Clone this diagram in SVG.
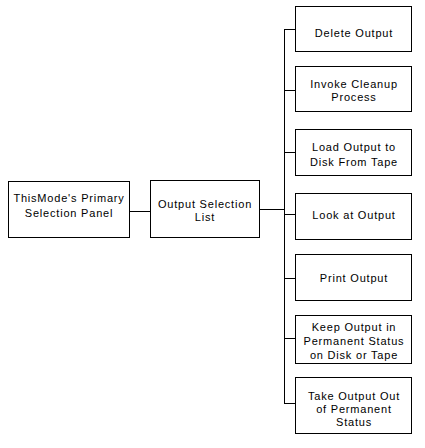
<svg xmlns="http://www.w3.org/2000/svg" width="425" height="448" viewBox="0 0 425 448">
<style>
rect{fill:#fff;stroke:#000;stroke-width:1}
line{stroke:#000;stroke-width:1}
text{font-family:"Liberation Sans",Arial,sans-serif;font-size:11px;letter-spacing:0.8px;text-anchor:middle;fill:#000}
</style>
<rect x="0" y="0" width="425" height="448" style="stroke:none"/>
<g id="connectors">
<line x1="129" y1="211.5" x2="150" y2="211.5"/>
<line x1="259" y1="209.5" x2="284.5" y2="209.5"/>
<line x1="284.5" y1="29" x2="284.5" y2="403"/>
<line x1="284" y1="29.5" x2="295" y2="29.5"/>
<line x1="284" y1="90.5" x2="295" y2="90.5"/>
<line x1="284" y1="152.5" x2="295" y2="152.5"/>
<line x1="284" y1="214.5" x2="295" y2="214.5"/>
<line x1="284" y1="278.5" x2="295" y2="278.5"/>
<line x1="284" y1="338.5" x2="295" y2="338.5"/>
<line x1="284" y1="403.5" x2="295" y2="403.5"/>
</g>
<g id="primary"><rect x="8.5" y="181.5" width="121" height="56"/><text x="69" y="202">ThisMode's Primary</text><text x="69" y="217">Selection Panel</text></g>
<g id="list"><rect x="150.5" y="180.5" width="109" height="57"/><text x="205" y="208">Output Selection</text><text x="205" y="221">List</text></g>
<g id="delete"><rect x="295.5" y="6.5" width="116" height="45"/><text x="354" y="37">Delete Output</text></g>
<g id="cleanup"><rect x="295.5" y="66.5" width="116" height="45"/><text x="354" y="88">Invoke Cleanup</text><text x="354" y="101">Process</text></g>
<g id="load"><rect x="295.5" y="129.5" width="116" height="46"/><text x="354" y="151">Load Output to</text><text x="354" y="166">Disk From Tape</text></g>
<g id="look"><rect x="295.5" y="193.5" width="116" height="46"/><text x="354" y="219">Look at Output</text></g>
<g id="print"><rect x="295.5" y="254.5" width="116" height="46"/><text x="354" y="282">Print Output</text></g>
<g id="keep"><rect x="295.5" y="315.5" width="116" height="48"/><text x="354" y="331">Keep Output in</text><text x="354" y="345">Permanent Status</text><text x="354" y="359">on Disk or Tape</text></g>
<g id="take"><rect x="295.5" y="377.5" width="116" height="56"/><text x="354" y="400">Take Output Out</text><text x="354" y="413">of Permanent</text><text x="354" y="426">Status</text></g>
</svg>
